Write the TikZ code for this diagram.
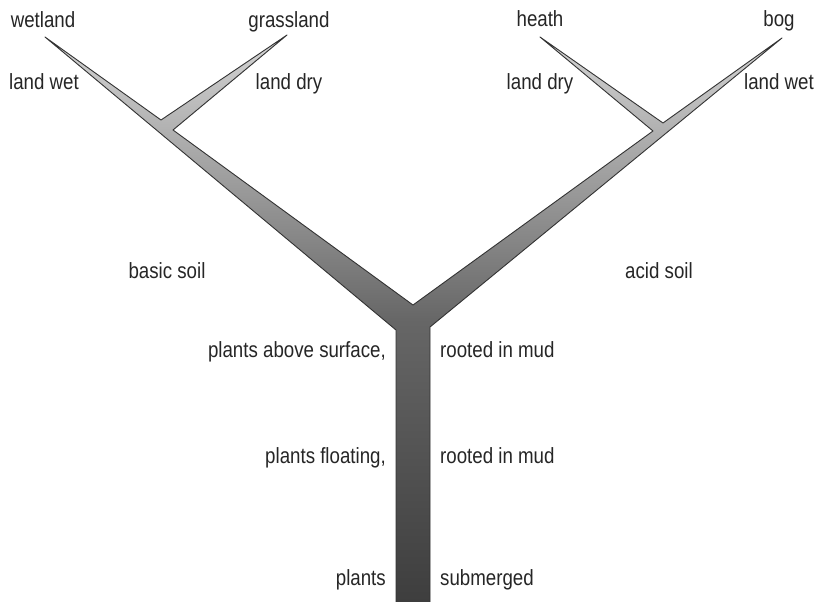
\documentclass[tikz,border=0pt]{standalone}
\usepackage{fontspec}
\setmainfont[FakeStretch=0.85]{Liberation Sans}
\usetikzlibrary{positioning}
\tikzset{
  habitat/.style={font=\fontsize{22}{24}\selectfont, inner sep=0pt, text=black!85},
  stem/.style={draw=black!80, line width=0.9pt, line join=round,
    top color=black!16, bottom color=black!76, middle color=black!60}
}

\begin{document}
\begin{tikzpicture}[x=1pt, y=-1pt]
  \useasboundingbox[fill=white] (0,0) rectangle (817,602);

  % outline of the succession tree
  \coordinate (baseL) at (396,608);
  \coordinate (trunkL) at (396,330);
  \coordinate (wetTip) at (45,37);
  \coordinate (leftUp) at (161,120);
  \coordinate (grassTip) at (287,35);
  \coordinate (leftLow) at (173,130);
  \coordinate (notch) at (413,305);
  \coordinate (rightLow) at (653,131);
  \coordinate (heathTip) at (540,37);
  \coordinate (rightUp) at (663,123);
  \coordinate (bogTip) at (782,38);
  \coordinate (trunkR) at (430,327);
  \coordinate (baseR) at (430,608);

  \path[stem] (baseL) -- (trunkL) -- (wetTip) -- (leftUp) -- (grassTip)
    -- (leftLow) -- (notch) -- (rightLow) -- (heathTip) -- (rightUp)
    -- (bogTip) -- (trunkR) -- (baseR) -- cycle;

  % end points
  \node[habitat, anchor=base] (wetland) at (43,28) {wetland};
  \node[habitat, anchor=base] (grassland) at (289,28) {grassland};
  \node[habitat, anchor=base] (heath) at (540,27) {heath};
  \node[habitat, anchor=base] (bog) at (779,27) {bog};

  % conditions at the forks
  \node[habitat, anchor=base] (wetL) at (44,90) {land wet};
  \node[habitat, anchor=base] (dryL) at (289,90) {land dry};
  \node[habitat, anchor=base] (dryR) at (540,90) {land dry};
  \node[habitat, anchor=base] (wetR) at (779,90) {land wet};
  \node[habitat, anchor=base] (basic) at (167,278) {basic soil};
  \node[habitat, anchor=base] (acid) at (659,278) {acid soil};

  % stages along the trunk
  \node[habitat, anchor=base east] (emergent) at (386,357) {plants above surface,};
  \node[habitat, anchor=base west] (rootedA) at (440,357) {rooted in mud};
  \node[habitat, anchor=base east] (floating) at (386,463) {plants floating,};
  \node[habitat, anchor=base west] (rootedB) at (440,463) {rooted in mud};
  \node[habitat, anchor=base east] (plants) at (386,585) {plants};
  \node[habitat, anchor=base west] (submerged) at (440,585) {submerged};
\end{tikzpicture}
\end{document}
